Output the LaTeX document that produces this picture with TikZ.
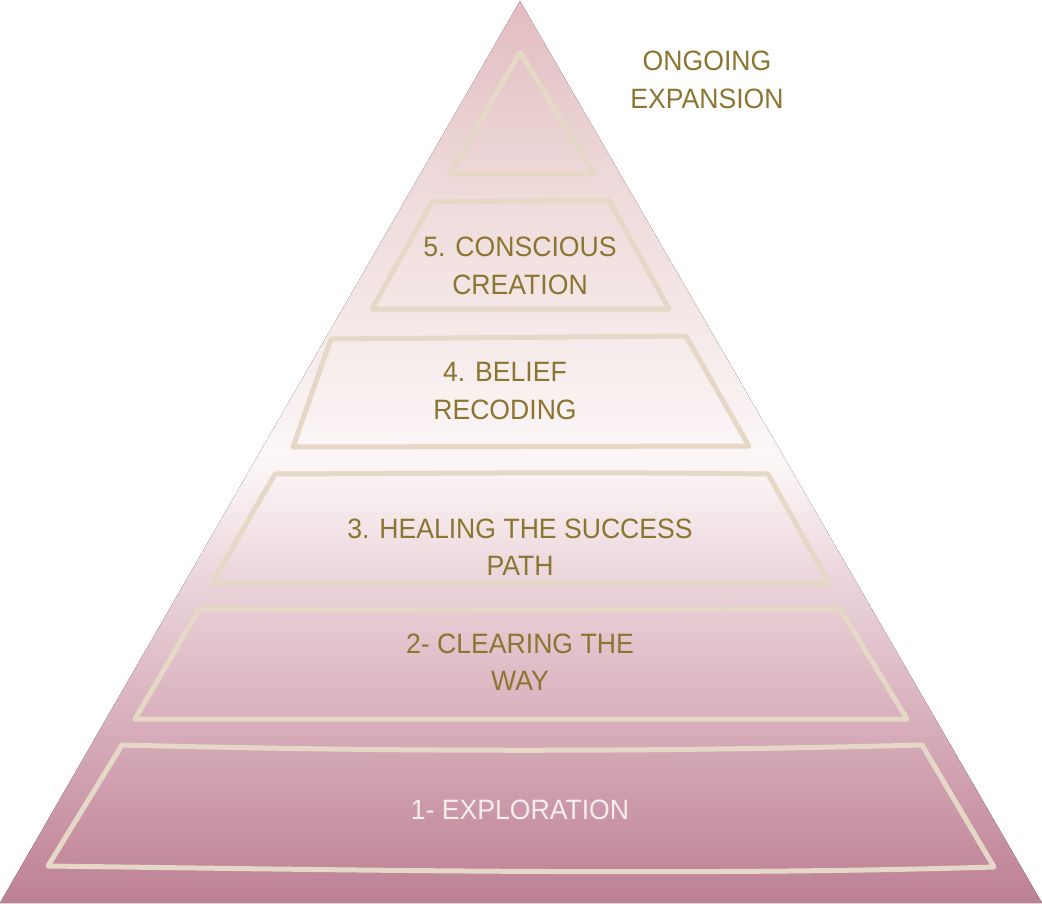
\documentclass[tikz,border=0pt]{standalone}
\usepackage{fontspec}
\setmainfont[FakeStretch=0.95]{Liberation Sans}
\definecolor{gA}{HTML}{BD8094}
\definecolor{gB}{HTML}{D8AFBC}
\definecolor{gC}{HTML}{E8CFD6}
\definecolor{gD}{HTML}{FCF7F7}
\definecolor{gE}{HTML}{EED9D9}
\definecolor{gF}{HTML}{E1BCC0}
\definecolor{rim}{HTML}{E5D8C7}
\definecolor{gold}{HTML}{8C7530}
\definecolor{pale}{HTML}{F6EEEA}
\pgfdeclareverticalshading{pyr}{100bp}{color(0bp)=(gA); color(25bp)=(gA); color(35.1bp)=(gB); color(41.8bp)=(gC); color(49.5bp)=(gD); color(65bp)=(gE); color(75bp)=(gF); color(100bp)=(gF)}
\begin{document}
\begin{tikzpicture}[x=1pt,y=-1pt,
  rimline/.style={draw=rim,line width=5pt,line join=round,line cap=round},
  lbl/.style={text=gold,font=\fontsize{28}{37.5}\selectfont,align=center,inner sep=0pt},
  lblw/.style={lbl,text=pale}]
\useasboundingbox (0,0) rectangle (1042,903);
\coordinate (apex) at (520,1);
\coordinate (bl) at (0,903);
\coordinate (br) at (1042,903);
\fill[shading=pyr] (apex) -- (br) -- (bl) -- cycle;
% top triangle
\draw[rimline] (520,52) -- (594,174) -- (450,174) -- cycle;
% box 5
\draw[rimline] (432,202) -- (609,200) -- (669,309) -- (372,309) -- cycle;
% box 4
\draw[rimline] (331,339) -- (686,336) -- (749,446) -- (293,447) -- cycle;
% box 3
\draw[rimline] (275,474) .. controls (500,473) and (600,472) .. (768,474) -- (829,583) -- (212,583) -- cycle;
% box 2
\draw[rimline] (200,608) .. controls (450,613) and (650,608) .. (840,609) -- (907,719) -- (135,719) -- cycle;
% box 1
\draw[rimline] (122,745) .. controls (400,752) and (650,752) .. (922,745) -- (994,867) .. controls (700,876) and (350,870) .. (48,866) -- cycle;
% labels
\node[lbl] (top) at (707,80) {ONGOING\\EXPANSION};
\node[lbl] (l5) at (520,266) {5. CONSCIOUS\\CREATION};
\node[lbl] (l4) at (505,391) {4. BELIEF\\RECODING};
\node[lbl] (l3) at (520,547) {3. HEALING THE SUCCESS\\PATH};
\node[lbl] (l2) at (520,662) {2- CLEARING THE\\WAY};
\node[lblw] (l1) at (520,810) {1- EXPLORATION};
\end{tikzpicture}
\end{document}
